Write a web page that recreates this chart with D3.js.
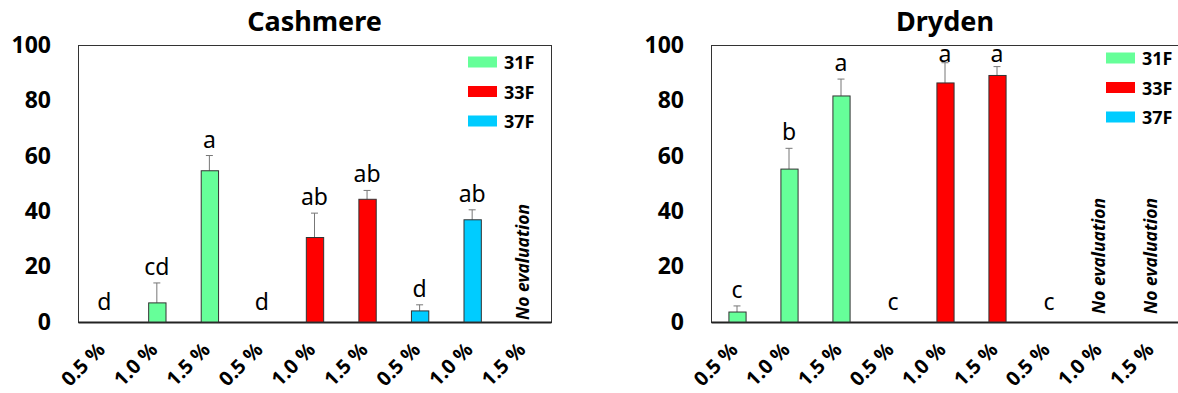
<!DOCTYPE html>
<html>
<head>
<meta charset="utf-8">
<script src="https://cdn.jsdelivr.net/npm/d3@7"></script>
<style>
  body { margin: 0; background: #fff; }
  svg { display: block; }
</style>
</head>
<body>
<svg id="chart" width="1178" height="393"></svg>
<script>
// ---- data ----
const doses = ["0.5 %", "1.0 %", "1.5 %"];
const cultivars = ["31F", "33F", "37F"];
const colors = ["#66ff99", "#ff0000", "#00ccff"];
const yTicks = [0, 20, 40, 60, 80, 100];

// rows = cultivar, columns = dose; null = no evaluation
const cashmereMean = [[0, 6.9, 54.6], [0, 30.5, 44.3], [4.0, 36.9, null]];
const cashmereErr = [[0, 7.2, 5.5], [0, 8.8, 3.2], [2.2, 3.6, null]];
const cashmereLetters = [["d", "cd", "a"], ["d", "ab", "ab"], ["d", "ab", null]];

const drydenMean = [[3.6, 55.2, 81.6], [0, 86.3, 89.0], [0, null, null]];
const drydenErr = [[2.2, 7.5, 6.1], [0, 7.3, 3.2], [0, null, null]];
const drydenLetters = [["c", "b", "a"], ["c", "a", "a"], ["c", null, null]];

// ---- layout ----
const plotTop = 45, plotBottom = 322;
const panels = [
  { title: "Cashmere", mean: cashmereMean, err: cashmereErr, letters: cashmereLetters,
    left: 78, right: 551, legendX: 468, legendY: 62, noteLift: 2 },
  { title: "Dryden", mean: drydenMean, err: drydenErr, letters: drydenLetters,
    left: 711, right: 1179, legendX: 1106, legendY: 58, noteLift: 8 }
];

const svg = d3.select("#chart");
const sans = "'Noto Sans', 'Open Sans', sans-serif";

panels.forEach(p => {
  // flatten to one record per cultivar x dose
  const rows = [];
  cultivars.forEach((c, ci) => doses.forEach((d, di) => {
    rows.push({ key: ci * 3 + di, cultivar: ci, dose: d,
      value: p.mean[ci][di], err: p.err[ci][di], letter: p.letters[ci][di] });
  }));

  const x = d3.scaleBand().domain(rows.map(r => r.key)).range([p.left, p.right])
    .paddingInner(0.67).paddingOuter(0.335);
  const y = d3.scaleLinear().domain([0, 100]).range([plotBottom, plotTop]);
  const g = svg.append("g");
  const cx = r => x(r.key) + x.bandwidth() / 2;

  // title
  g.append("text")
    .attr("x", (p.left + p.right) / 2).attr("y", 31)
    .attr("text-anchor", "middle")
    .style("font-family", sans).style("font-weight", "bold").style("font-size", "27px")
    .text(p.title);

  // frame
  g.append("rect")
    .attr("x", p.left + 0.5).attr("y", plotTop + 0.5)
    .attr("width", p.right - p.left).attr("height", plotBottom - plotTop)
    .attr("fill", "none").attr("stroke", "#333").attr("stroke-width", 1);

  // y axis
  const ya = g.append("g").attr("transform", `translate(${p.left},0)`)
    .call(d3.axisLeft(y).tickValues(yTicks).tickSize(0).tickPadding(27));
  ya.select(".domain").remove();
  ya.selectAll("text")
    .style("font-family", sans).style("font-weight", "bold").style("font-size", "23px")
    .attr("fill", "#000");

  // x axis
  const xa = g.append("g").attr("transform", `translate(0,${plotBottom})`)
    .call(d3.axisBottom(x).tickSize(0).tickFormat(k => rows[k].dose));
  xa.select(".domain").attr("stroke", "#222").attr("stroke-width", 2);
  xa.selectAll("text")
    .style("font-family", sans).style("font-weight", "bold").style("font-size", "20px")
    .attr("fill", "#000")
    .attr("text-anchor", "end")
    .attr("x", 0).attr("y", 0).attr("dy", "0.35em")
    .attr("transform", "translate(-3,24) rotate(-45)");

  const valued = rows.filter(r => r.value !== null);

  // error bars (upper half only)
  const eb = valued.filter(r => r.err > 0);
  g.selectAll(".err").data(eb).join("line")
    .attr("x1", cx).attr("x2", cx)
    .attr("y1", r => y(r.value)).attr("y2", r => y(r.value + r.err))
    .attr("stroke", "#777").attr("stroke-width", 1);
  g.selectAll(".cap").data(eb).join("line")
    .attr("x1", r => cx(r) - 3.5).attr("x2", r => cx(r) + 3.5)
    .attr("y1", r => y(r.value + r.err)).attr("y2", r => y(r.value + r.err))
    .attr("stroke", "#777").attr("stroke-width", 1);

  // bars
  g.selectAll(".bar").data(valued.filter(r => r.value > 0)).join("rect")
    .attr("x", r => x(r.key) + 0.5).attr("y", r => y(r.value))
    .attr("width", x.bandwidth()).attr("height", r => y(0) - y(r.value))
    .attr("fill", r => colors[r.cultivar])
    .attr("stroke", "#333").attr("stroke-width", 1);

  // significance letters
  g.selectAll(".lt").data(valued.filter(r => r.letter)).join("text")
    .attr("x", cx)
    .attr("y", r => r.value > 0 ? Math.max(y(r.value + r.err) - 8, 62) : y(0) - 12)
    .attr("text-anchor", "middle")
    .style("font-family", sans).style("font-size", "23px")
    .text(r => r.letter);

  // not evaluated
  g.selectAll(".ne").data(rows.filter(r => r.value === null)).join("text")
    .attr("transform", r => `translate(${cx(r) + 4},${y(0) - p.noteLift}) rotate(-90)`)
    .style("font-family", sans).style("font-weight", "bold").style("font-style", "italic")
    .style("font-size", "17.5px")
    .text("No evaluation");

  // legend
  const lg = g.append("g");
  cultivars.forEach((c, i) => {
    const yy = p.legendY + i * 29.5;
    lg.append("rect").attr("x", p.legendX).attr("y", yy - 5.5)
      .attr("width", 29).attr("height", 11).attr("fill", colors[i]);
    lg.append("text").attr("x", p.legendX + 36).attr("y", yy)
      .attr("dominant-baseline", "central")
      .style("font-family", sans).style("font-weight", "bold").style("font-size", "18px")
      .text(c);
  });
});
</script>
</body>
</html>
